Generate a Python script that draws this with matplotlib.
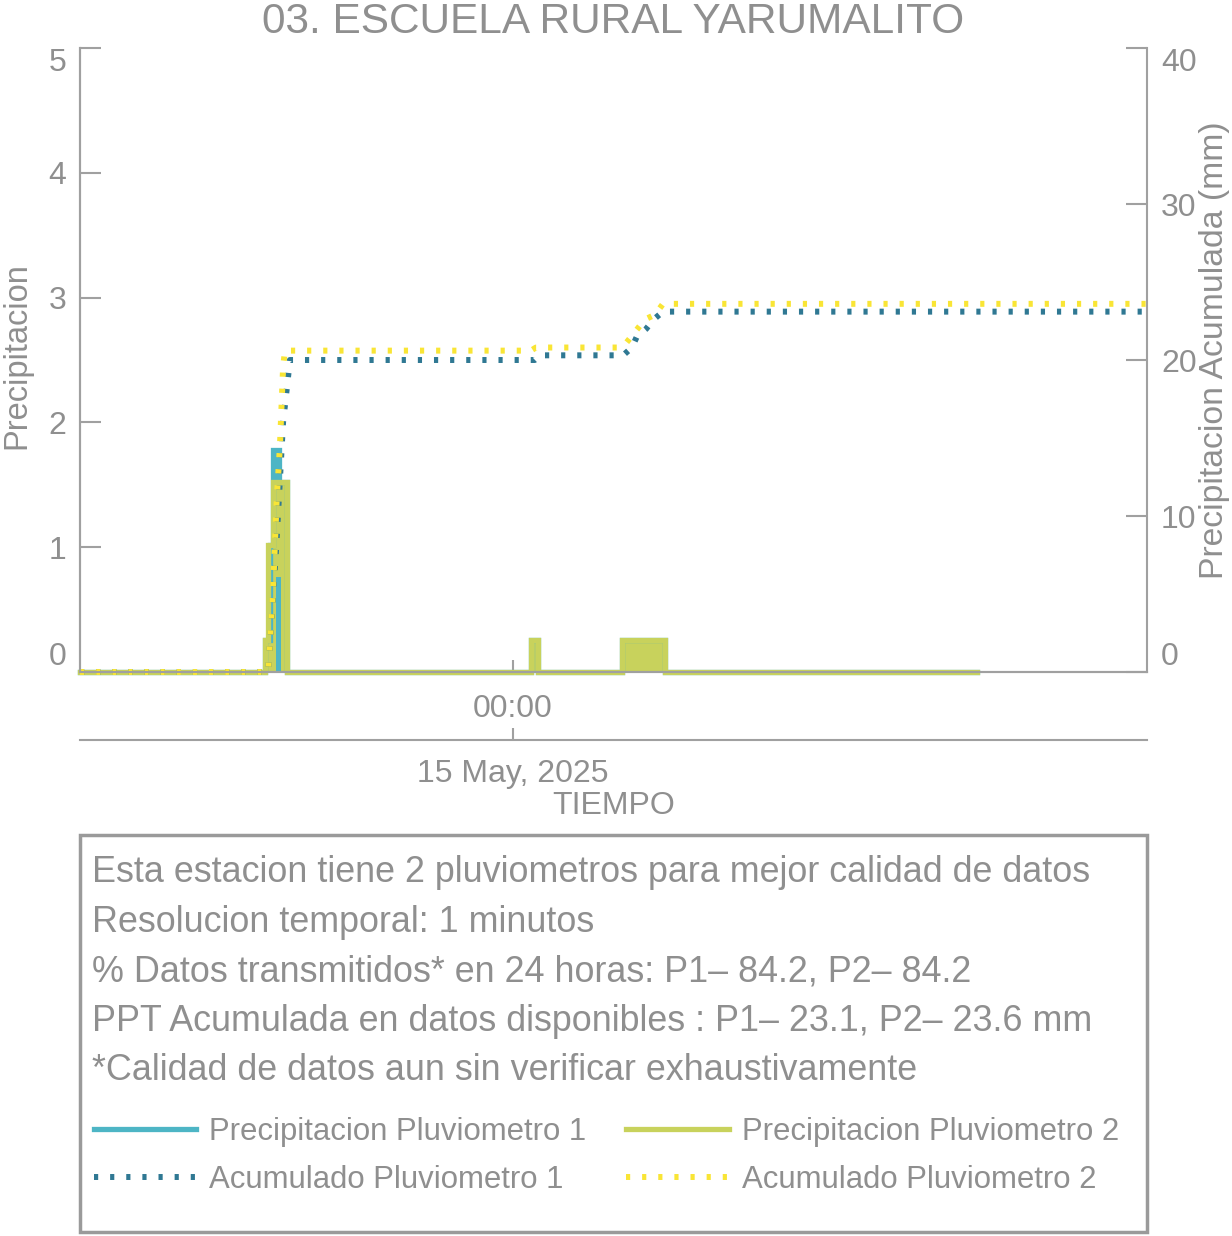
import matplotlib
matplotlib.use('Agg')
import matplotlib.dates as mdates
import pandas as pd
from matplotlib import pyplot as plt
from matplotlib.patches import Rectangle

# precipitacion por minuto (mm)
p1_time = ["2025-05-14 12:25", "2025-05-14 17:22", "2025-05-14 17:30", "2025-05-14 17:35",
           "2025-05-14 17:44", "2025-05-14 17:57", "2025-05-15 00:29", "2025-05-15 00:40",
           "2025-05-15 02:55", "2025-05-15 04:04", "2025-05-15 12:25"]
p1_val = [0, 0.254, 1.016, 1.778, 1.524, 0, 0.254, 0, 0.254, 0, 0]

p2_time = ["2025-05-14 12:25", "2025-05-14 17:22", "2025-05-14 17:27", "2025-05-14 17:35",
           "2025-05-14 17:40", "2025-05-14 17:48", "2025-05-14 17:57", "2025-05-15 00:29",
           "2025-05-15 00:40", "2025-05-15 02:55", "2025-05-15 04:04", "2025-05-15 12:25"]
p2_val = [0, 0.254, 1.016, 1.524, 1.524, 1.524, 0, 0.254, 0, 0.254, 0, 0]
p2_low = [0, 0, 0, 0, 0.762, 0, 0, 0, 0, 0, 0, 0]

# acumulados (mm)
c1_time = ["2025-05-14 12:25", "2025-05-14 17:27", "2025-05-14 17:40", "2025-05-14 17:51",
           "2025-05-14 18:02", "2025-05-15 00:35", "2025-05-15 00:43", "2025-05-15 02:57",
           "2025-05-15 03:11", "2025-05-15 03:19", "2025-05-15 03:34", "2025-05-15 03:46",
           "2025-05-15 04:01", "2025-05-15 16:58"]
c1_val = [0, 0, 8.0, 16.0, 20.0, 20.0, 20.3, 20.3, 20.8, 21.5, 22.0, 22.6, 23.1, 23.1]

c2_time = ["2025-05-14 12:25", "2025-05-14 17:27", "2025-05-14 17:35", "2025-05-14 17:41",
           "2025-05-14 17:46", "2025-05-14 17:51", "2025-05-14 17:54", "2025-05-15 00:29",
           "2025-05-15 00:37", "2025-05-15 02:52", "2025-05-15 03:02", "2025-05-15 03:16",
           "2025-05-15 03:32", "2025-05-15 03:48", "2025-05-15 04:01", "2025-05-15 16:58"]
c2_val = [0, 0, 5.3, 11.2, 14.5, 19.5, 20.6, 20.6, 20.8, 20.8, 21.1, 21.8, 22.6, 22.9, 23.6, 23.6]

x_range = ["2025-05-14 12:25", "2025-05-15 16:58"]
x_tick = "2025-05-15 00:00"

info_lines = [
    "Esta estacion tiene 2 pluviometros para mejor calidad de datos",
    "Resolucion temporal: 1 minutos",
    "% Datos transmitidos* en 24 horas: P1\u2013 84.2, P2\u2013 84.2",
    "PPT Acumulada en datos disponibles : P1\u2013 23.1, P2\u2013 23.6 mm",
    "*Calidad de datos aun sin verificar exhaustivamente",
]

GRAY = "#8f8f8f"
SPINE = "#a0a0a0"
C_P1 = "#4db5c5"
C_P2 = "#c8d25c"
C_A1 = "#2f7893"
C_A2 = "#f9e535"

plt.rcParams['font.family'] = ['Liberation Sans', 'DejaVu Sans']

W, H = 1232, 1236
fig = plt.figure(figsize=(W / 100, H / 100), dpi=100)

ax_l, ax_r, ax_t, ax_b = 80, 1147, 48, 672
ax = fig.add_axes([ax_l / W, 1 - ax_b / H, (ax_r - ax_l) / W, (ax_b - ax_t) / H])
ax2 = ax.twinx()

t1 = pd.to_datetime(p1_time)
t2 = pd.to_datetime(p2_time)
ax.fill_between(t1, 0, p1_val, step='post', color=C_P1, lw=0)
ax.plot(t1, p1_val, drawstyle='steps-post', color=C_P1, lw=3.8, clip_on=False,
        solid_joinstyle='miter', label="Precipitacion Pluviometro 1")
ax.fill_between(t2, p2_low, p2_val, step='post', color=C_P2, lw=0)
ax.plot(t2, p2_val, drawstyle='steps-post', color=C_P2, lw=3.8, clip_on=False,
        solid_joinstyle='miter', label="Precipitacion Pluviometro 2")

dots = (0, (0.7, 2.0))
ax2.plot(pd.to_datetime(c1_time), c1_val, color=C_A1, lw=4.3, ls=dots, dash_capstyle='butt',
         clip_on=False, label="Acumulado Pluviometro 1")
ax2.plot(pd.to_datetime(c2_time), c2_val, color=C_A2, lw=4.3, ls=dots, dash_capstyle='butt',
         clip_on=False, label="Acumulado Pluviometro 2")

ax.set_xlim(pd.to_datetime(x_range))
ax.set_ylim(0, 5)
ax2.set_ylim(0, 40)
ax.set_yticks([0, 1, 2, 3, 4, 5])
ax2.set_yticks([0, 10, 20, 30, 40])
ax.set_xticks([pd.Timestamp(x_tick)])
ax.set_xticklabels(["00:00"])

for a in (ax, ax2):
    for s in a.spines.values():
        s.set_color(SPINE)
        s.set_linewidth(1.5)
    a.spines['top'].set_visible(False)
ax.spines['right'].set_visible(False)

ax.tick_params(axis='y', direction='in', length=15, width=1.5, color=SPINE, labelcolor=GRAY,
               labelsize=23, pad=10)
ax2.tick_params(axis='y', direction='in', length=15, width=1.5, color=SPINE, labelcolor=GRAY,
                labelsize=23, pad=10)
ax.tick_params(axis='x', direction='in', length=9, width=1.5, color=SPINE, labelcolor=GRAY,
               labelsize=23, pad=16)

for a in (ax, ax2):
    labs = a.get_yticklabels()
    labs[0].set_va('bottom')
    labs[-1].set_va('top')

ylab = ax.set_ylabel("Precipitacion", color=GRAY, fontsize=23.5)
ylab.set_va('baseline')
ax.yaxis.set_label_coords((25 - ax_l) / (ax_r - ax_l), (ax_b - 356) / (ax_b - ax_t))
ylab2 = ax2.set_ylabel("Precipitacion Acumulada (mm)", color=GRAY, fontsize=24.3)
ylab2.set_va('baseline')
ylab2.set_rotation(90)
ax2.yaxis.set_label_coords((1223 - ax_l) / (ax_r - ax_l), (ax_b - 350) / (ax_b - ax_t))

sec = ax.secondary_xaxis(-(740 - ax_b) / (ax_b - ax_t))
sec.set_xticks([mdates.date2num(pd.Timestamp(x_tick))])
sec.set_xticklabels(["15 May, 2025"])
sec.spines['bottom'].set_color(SPINE)
sec.spines['bottom'].set_linewidth(1.5)
sec.tick_params(axis='x', direction='in', length=9, width=1.5, color=SPINE, labelcolor=GRAY,
                labelsize=23, pad=14)

fig.text((ax_l + ax_r) / 2 / W, 1 - 806 / H, "TIEMPO", color=GRAY, fontsize=23, ha='center', va='center')
fig.text((ax_l + ax_r) / 2 / W, 1 - 33 / H, "03. ESCUELA RURAL YARUMALITO", color=GRAY, fontsize=30.5,
         ha='center', va='baseline')

# caja de informacion
fig.patches.append(Rectangle((ax_l / W, 1 - 1232 / H), (ax_r - ax_l) / W, (1232 - 835) / H,
                             transform=fig.transFigure, fill=False, edgecolor="#9a9a9a", lw=2.5))
for i, line in enumerate(info_lines):
    fig.text(92 / W, 1 - (873 + i * 49.5) / H, line, color=GRAY, fontsize=25.8, va='center')

h1, l1 = ax.get_legend_handles_labels()
h2, l2 = ax2.get_legend_handles_labels()
handles = [h1[0], h2[0], h1[1], h2[1]]
labels = [l1[0], l2[0], l1[1], l2[1]]
fig.legend(handles, labels, ncol=2, loc='upper left', bbox_to_anchor=(72 / W, 1 - 1095 / H),
           frameon=False, fontsize=22.4, labelcolor=GRAY, handlelength=3.3, handletextpad=0.4,
           columnspacing=1.3, labelspacing=0.58, borderpad=0.2)

fig.savefig("out.png", dpi=100)
